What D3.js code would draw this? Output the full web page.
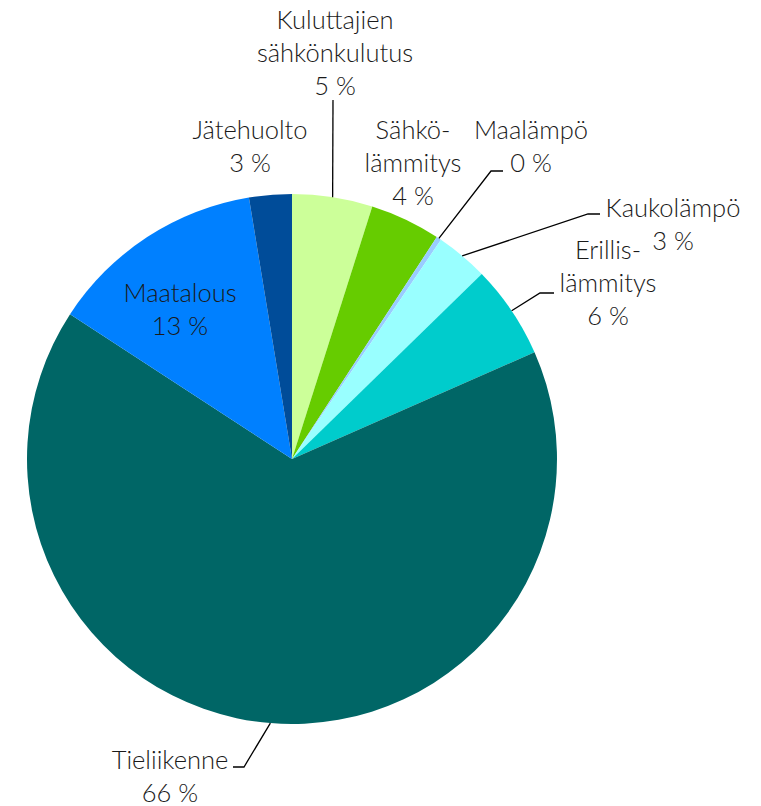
<!DOCTYPE html>
<html>
<head lang="fi">
  <meta charset="UTF-8">
  <title>Päästöt</title>
  <script src="https://cdn.jsdelivr.net/npm/d3@7"></script>
  <style>
    body { margin: 0; background: #fff; }
    text { font-family: Lato, "Open Sans", sans-serif; font-weight: 300; fill: #1a1a1a; }
  </style>
</head>
<body>
  <script type="text/javascript">
    // data, clockwise from 12 o'clock
    var names = ['Kuluttajien sähkönkulutus', 'Sähkölämmitys', 'Maalämpö', 'Kaukolämpö',
                 'Erillislämmitys', 'Tieliikenne', 'Maatalous', 'Jätehuolto'];
    var values = [4.9, 4.3, 0.3, 3.2, 5.7, 65.8, 13.2, 2.6];
    var percentLabels = ['5 %', '4 %', '0 %', '3 %', '6 %', '66 %', '13 %', '3 %'];
    var colors = ['#ccff99', '#66cc00', '#99ccff', '#99ffff', '#00cccc', '#006666', '#0080ff', '#004c99'];

    // label layout: text lines, text centre, first baseline, elbow of leader (null = no leader)
    var labelLayout = [
      { lines: ['Kuluttajien', 'sähkönkulutus'], x: 335, y: 29, elbow: [333, 100], end: null },
      { lines: ['Sähkö-', 'lämmitys'], x: 413, y: 139, elbow: null },
      { lines: ['Maalämpö'], x: 531, y: 139, elbow: [491, 171], end: [503, 171] },
      { lines: ['Kaukolämpö'], x: 673, y: 217, elbow: [588, 214], end: [600, 214] },
      { lines: ['Erillis-', 'lämmitys'], x: 608, y: 259, elbow: [540, 293], end: [554, 293] },
      { lines: ['Tieliikenne'], x: 170, y: 769, elbow: [244, 767], end: [233, 767] },
      { lines: ['Maatalous'], x: 180, y: 302, elbow: null },
      { lines: ['Jätehuolto'], x: 250, y: 139, elbow: null }
    ];

    var width = 761, height = 806;
    var cx = 292, cy = 459, radius = 265;
    var lineH = 33;

    var svg = d3.select('body').append('svg')
        .attr('width', width)
        .attr('height', height);

    var pie = d3.pie().sort(null).value(function (d) { return d; });
    var arcs = pie(values);
    var arc = d3.arc().innerRadius(0).outerRadius(radius);

    var g = svg.append('g').attr('transform', 'translate(' + cx + ',' + cy + ')');
    g.selectAll('path.slice')
        .data(arcs)
        .enter().append('path')
        .attr('class', 'slice')
        .attr('d', arc)
        .attr('fill', function (d, i) { return colors[i]; });

    // leader lines
    arcs.forEach(function (d, i) {
      var lay = labelLayout[i];
      if (!lay.elbow) return;
      var mid = (d.startAngle + d.endAngle) / 2;
      var sx = cx + radius * Math.sin(mid);
      var sy = cy - radius * Math.cos(mid);
      var pts = [[sx, sy], lay.elbow];
      if (lay.end) pts.push(lay.end);
      svg.append('path')
          .attr('d', d3.line()(pts))
          .attr('fill', 'none')
          .attr('stroke', '#000')
          .attr('stroke-width', 1.3);
    });

    // labels
    arcs.forEach(function (d, i) {
      var lay = labelLayout[i];
      var t = svg.append('text')
          .attr('text-anchor', 'middle')
          .attr('font-size', 25.5);
      var lines = lay.lines.concat([percentLabels[i]]);
      lines.forEach(function (s, k) {
        t.append('tspan')
            .attr('x', lay.x)
            .attr('y', lay.y + k * lineH)
            .text(s);
      });
    });
  </script>
</body>
</html>
